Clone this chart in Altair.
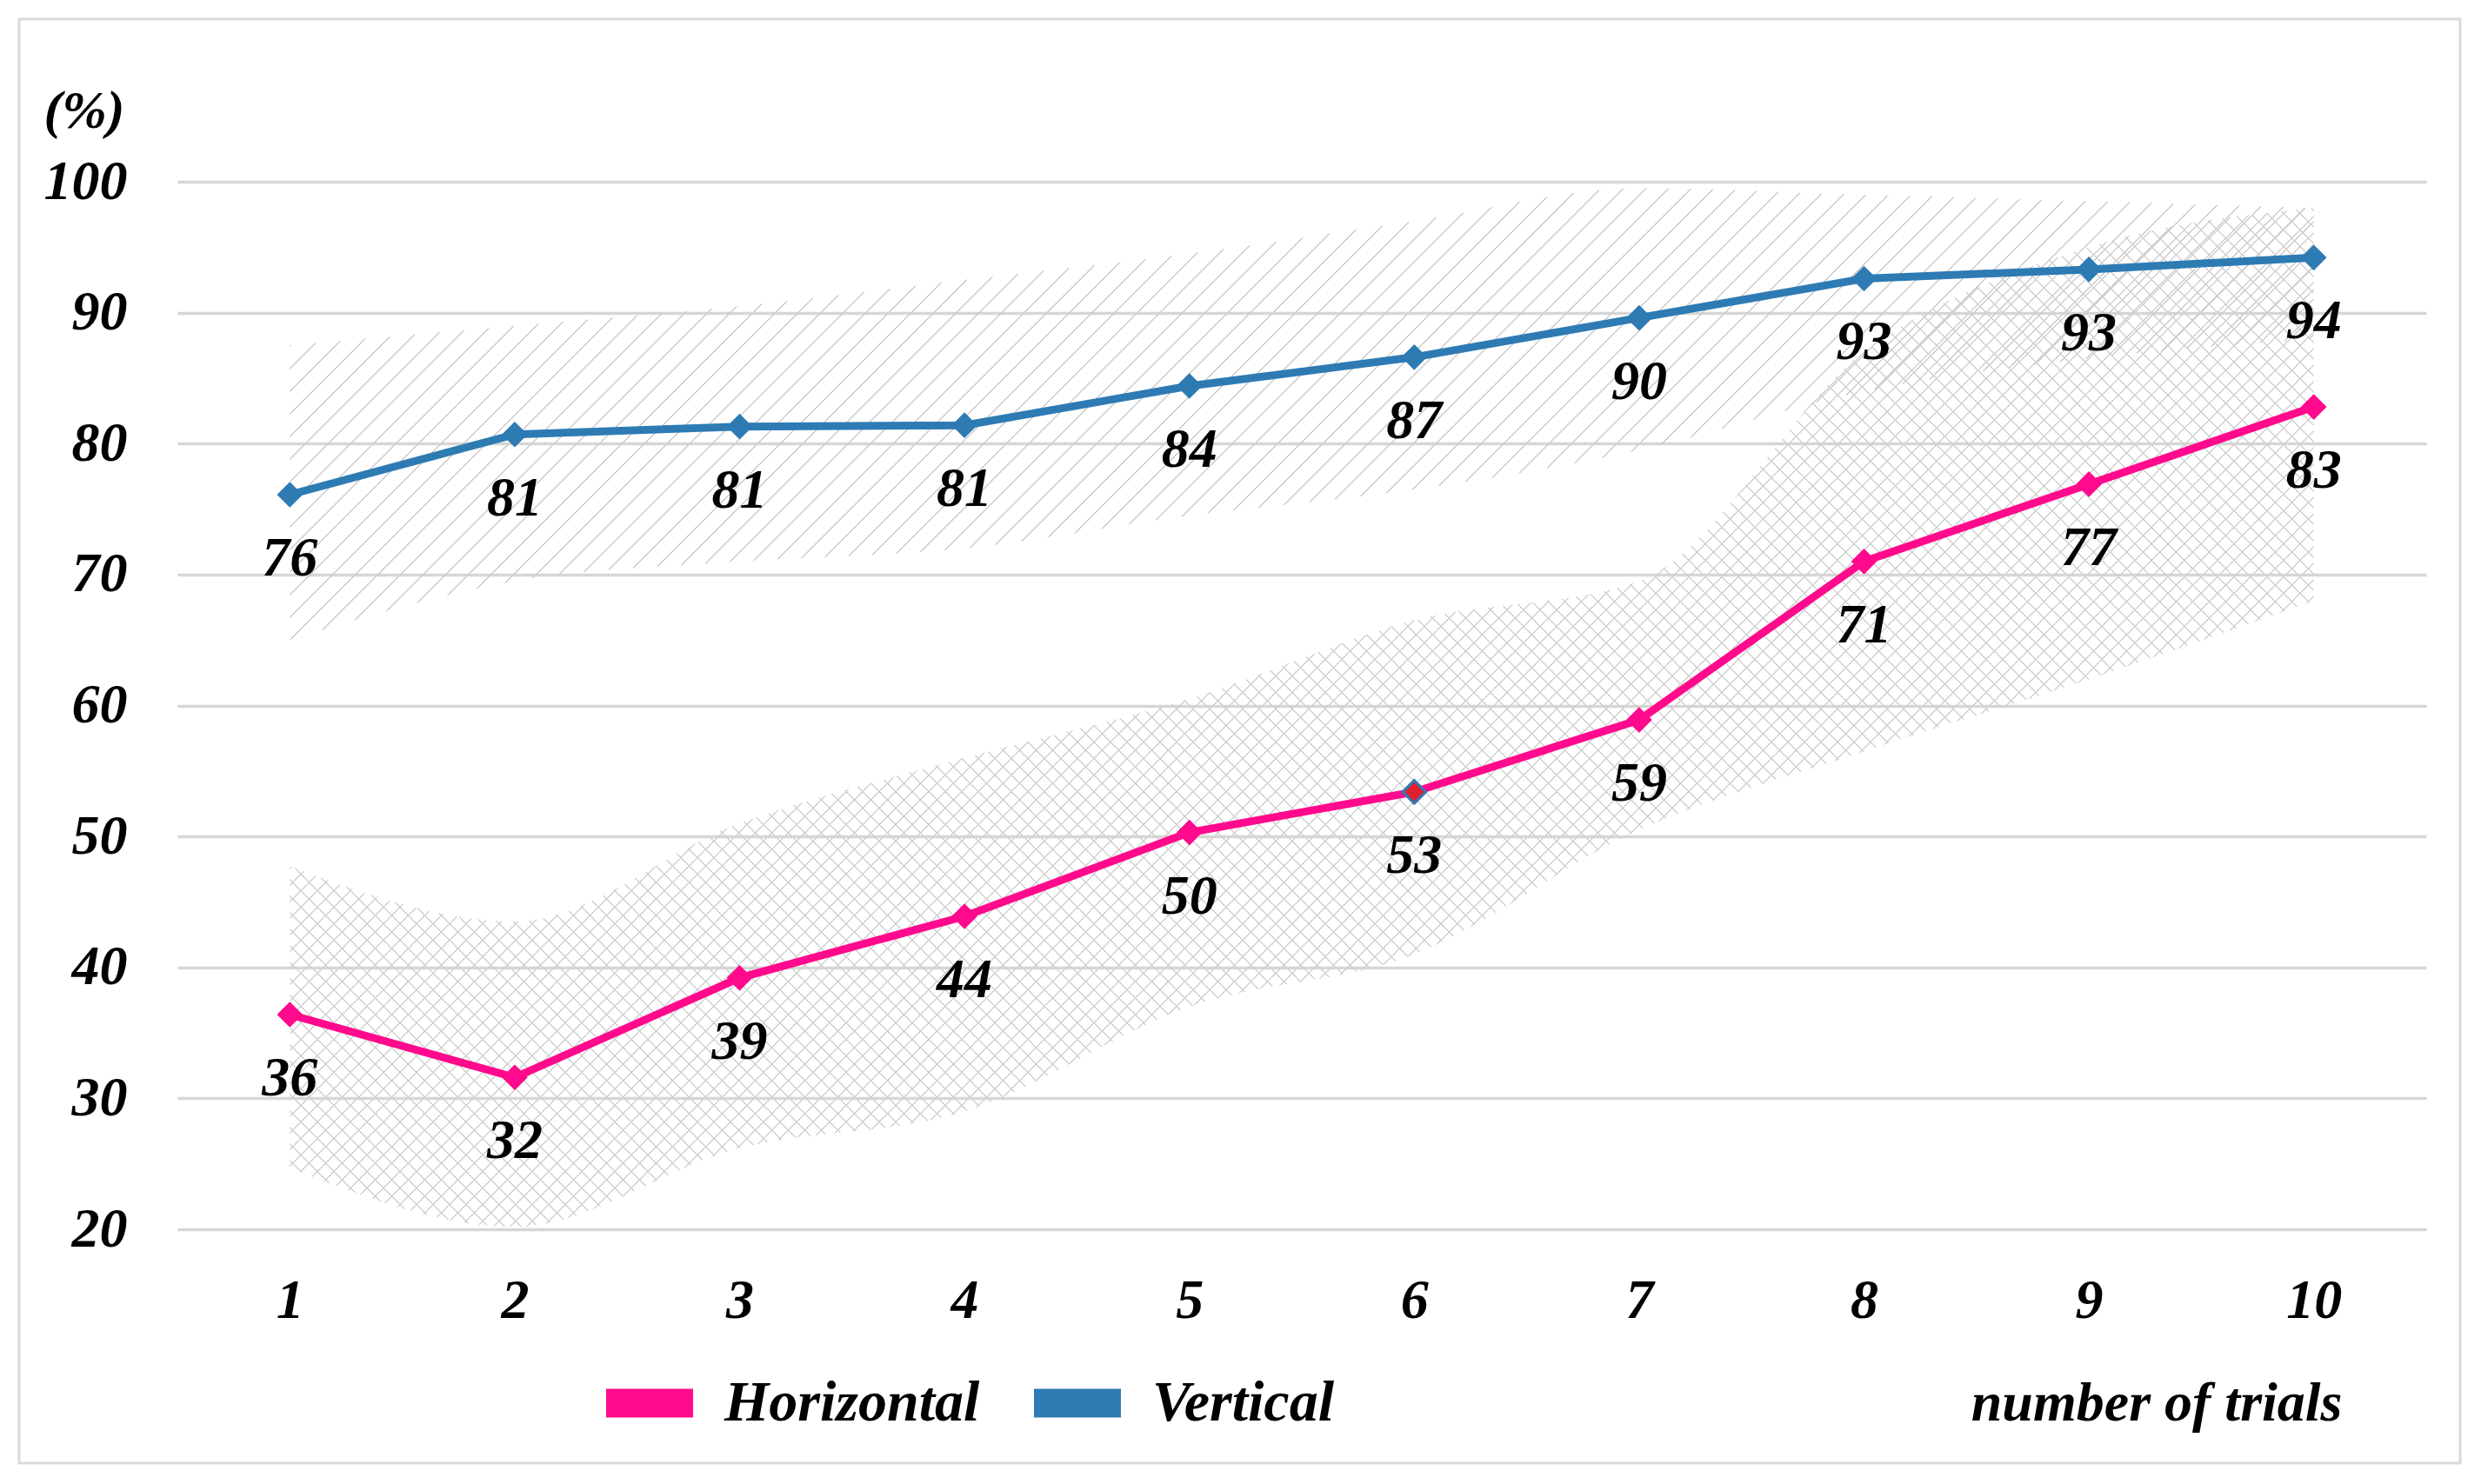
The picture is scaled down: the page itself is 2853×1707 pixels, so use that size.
import altair as alt
import pandas as pd

# ---------------- data ----------------
trials = [1, 2, 3, 4, 5, 6, 7, 8, 9, 10]
horizontal = [36.4, 31.6, 39.2, 43.9, 50.3, 53.4, 58.9, 71.0, 76.9, 82.8]
vertical = [76.1, 80.7, 81.3, 81.4, 84.4, 86.6, 89.6, 92.6, 93.3, 94.2]
horizontal_hi = [47.7, 43.5, 51.0, 56.0, 60.5, 66.5, 69.5, 87.0, 95.0, 98.0]
horizontal_lo = [24.7, 20.2, 26.2, 29.0, 37.0, 41.0, 50.5, 56.5, 62.0, 68.0]
vertical_hi = [87.5, 89.0, 90.5, 92.5, 94.5, 97.0, 99.5, 99.0, 98.5, 98.0]
vertical_lo = [65.0, 69.5, 71.0, 72.0, 74.5, 76.5, 79.5, 84.0, 86.5, 88.0]
series_names = ["Horizontal", "Vertical"]
series_colors = ["#FF0A8C", "#2E7BB4"]
y_ticks = [20, 30, 40, 50, 60, 70, 80, 90, 100]
highlight_trial = 6  # the odd red diamond on the Horizontal line

rows = []
for i, t in enumerate(trials):
    rows.append(dict(trial=t, series="Horizontal", value=horizontal[i],
                     lo=horizontal_lo[i], hi=horizontal_hi[i]))
    rows.append(dict(trial=t, series="Vertical", value=vertical[i],
                     lo=vertical_lo[i], hi=vertical_hi[i]))
df = pd.DataFrame(rows)

# ---------------- layout ----------------
W, H = 2586, 1205
FONT = "Liberation Serif"
px_per_unit = H / 80.0
step = W / 10.0


def hatch(w, h, spacing, line, color, direction):
    """Linear gradient with hard stops that draws 45-degree hatch lines."""
    total = w + h
    r = h / w
    k = total / (w * (1 + r * r))
    clear = "rgba(255,255,255,0)"
    lw = line / total
    stops = []
    n = int(total / spacing) + 1
    last = 0.0
    for i in range(n + 1):
        c = i * spacing / total
        a = max(last, c - lw / 2)
        b = min(1.0, c + lw / 2)
        if a >= 1.0:
            break
        stops += [alt.GradientStop(offset=a, color=clear),
                  alt.GradientStop(offset=a, color=color),
                  alt.GradientStop(offset=b, color=color),
                  alt.GradientStop(offset=b, color=clear)]
        last = b
    if direction == "/":
        return alt.LinearGradient(gradient="linear", stops=stops,
                                  x1=0, y1=0, x2=k, y2=k * r)
    return alt.LinearGradient(gradient="linear", stops=stops,
                              x1=0, y1=1, x2=k, y2=1 - k * r)


band_w = (max(trials) - min(trials)) * step
v_h = (max(vertical_hi) - min(vertical_lo)) * px_per_unit
h_h = (max(horizontal_hi) - min(horizontal_lo)) * px_per_unit

x_axis = alt.Axis(values=trials, format="d", grid=False, domain=False, ticks=False,
                  tickSize=0, labelPadding=82, labelBaseline="middle",
                  labelFont=FONT, labelFontSize=64, labelFontStyle="italic",
                  labelFontWeight="bold", labelColor="black",
                  title="number of trials", titleFont=FONT, titleFontSize=64,
                  titleFontStyle="italic", titleFontWeight="bold", titleColor="black",
                  titleX=2489, titleY=200, titleAlign="right", titleBaseline="middle")
y_axis = alt.Axis(values=y_ticks, grid=True, gridColor="#d6d6d6", gridWidth=3.5,
                  domain=False, ticks=False, tickSize=0, labelPadding=58,
                  labelFont=FONT, labelFontSize=64, labelFontStyle="italic",
                  labelFontWeight="bold", labelColor="black",
                  title="(%)", titleFont=FONT, titleFontSize=62, titleFontStyle="italic",
                  titleFontWeight="bold", titleColor="black", titleAngle=0,
                  titleX=-61, titleY=-82, titleAlign="right", titleBaseline="middle")
x_scale = alt.Scale(domain=[0.5, 10.5], nice=False, zero=False)
y_scale = alt.Scale(domain=[20, 100], nice=False, zero=False)
color_scale = alt.Scale(domain=series_names, range=series_colors)


def X():
    return alt.X("trial:Q", scale=x_scale, axis=x_axis)


base = alt.Chart(df)

frame = alt.Chart(alt.InlineData(values=[{"a": 1}])).mark_rect(
    fillOpacity=0, stroke="#d9d9d9", strokeWidth=3
).encode(x=alt.value(-182), x2=alt.value(2625), y=alt.value(-187), y2=alt.value(1474))

v_band = base.transform_filter(alt.datum.series == "Vertical").mark_area(
    fill=hatch(band_w, v_h, 26, 2.2, "#cdcdcd", "/"), interpolate="monotone"
).encode(x=X(), y=alt.Y("lo:Q", scale=y_scale, axis=y_axis), y2="hi:Q")

h_band1 = base.transform_filter(alt.datum.series == "Horizontal").mark_area(
    fill=hatch(band_w, h_h, 19, 2.0, "#d2d2d2", "/"), interpolate="monotone"
).encode(x=X(), y=alt.Y("lo:Q", scale=y_scale, axis=y_axis), y2="hi:Q")

h_band2 = base.transform_filter(alt.datum.series == "Horizontal").mark_area(
    fill=hatch(band_w, h_h, 19, 2.0, "#d2d2d2", "\\"), interpolate="monotone"
).encode(x=X(), y=alt.Y("lo:Q", scale=y_scale, axis=y_axis), y2="hi:Q")

legend = alt.Legend(title=None, orient="none", legendX=493, legendY=1355,
                    direction="horizontal", symbolType="M-1,-0.33H1V0.33H-1Z",
                    symbolSize=10000, symbolStrokeWidth=0,
                    labelFont=FONT, labelFontSize=66, labelFontStyle="italic",
                    labelFontWeight="bold", labelColor="black", labelLimit=0,
                    labelOffset=36, columnPadding=62)

points = base.mark_point(shape="diamond", filled=True, size=850, opacity=1).encode(
    x=X(), y=alt.Y("value:Q", scale=y_scale, axis=y_axis),
    color=alt.Color("series:N", scale=color_scale, legend=legend),
)

lines = base.mark_line(strokeWidth=9).encode(
    x=X(), y=alt.Y("value:Q", scale=y_scale, axis=y_axis),
    color=alt.Color("series:N", scale=color_scale, legend=legend),
)

points_top = base.mark_point(shape="diamond", filled=True, size=850, opacity=1).encode(
    x=X(), y=alt.Y("value:Q", scale=y_scale, axis=y_axis),
    color=alt.Color("series:N", scale=color_scale, legend=legend),
)

odd_point = base.transform_filter(
    (alt.datum.series == "Horizontal") & (alt.datum.trial == highlight_trial)
).mark_point(shape="diamond", filled=True, size=700, opacity=1, fill="#E0202E",
             stroke="#2E7BB4", strokeWidth=3).encode(
    x=X(), y=alt.Y("value:Q", scale=y_scale, axis=y_axis))

labels = base.mark_text(dy=74, baseline="middle", font=FONT, fontSize=64,
                        fontStyle="italic", fontWeight="bold", color="black").encode(
    x=X(), y=alt.Y("value:Q", scale=y_scale, axis=y_axis),
    text=alt.Text("value:Q", format=".0f"),
)

chart = alt.layer(frame, v_band, h_band1, h_band2, points, lines, points_top, odd_point,
                  labels).properties(
    width=W, height=H,
    autosize=alt.AutoSizeParams(type="none"),
    padding={"left": 196, "top": 201, "right": 50, "bottom": 280},
    background="white",
).configure_view(stroke=None)

chart.save("out.html", embed_options={"renderer": "svg", "actions": False})
